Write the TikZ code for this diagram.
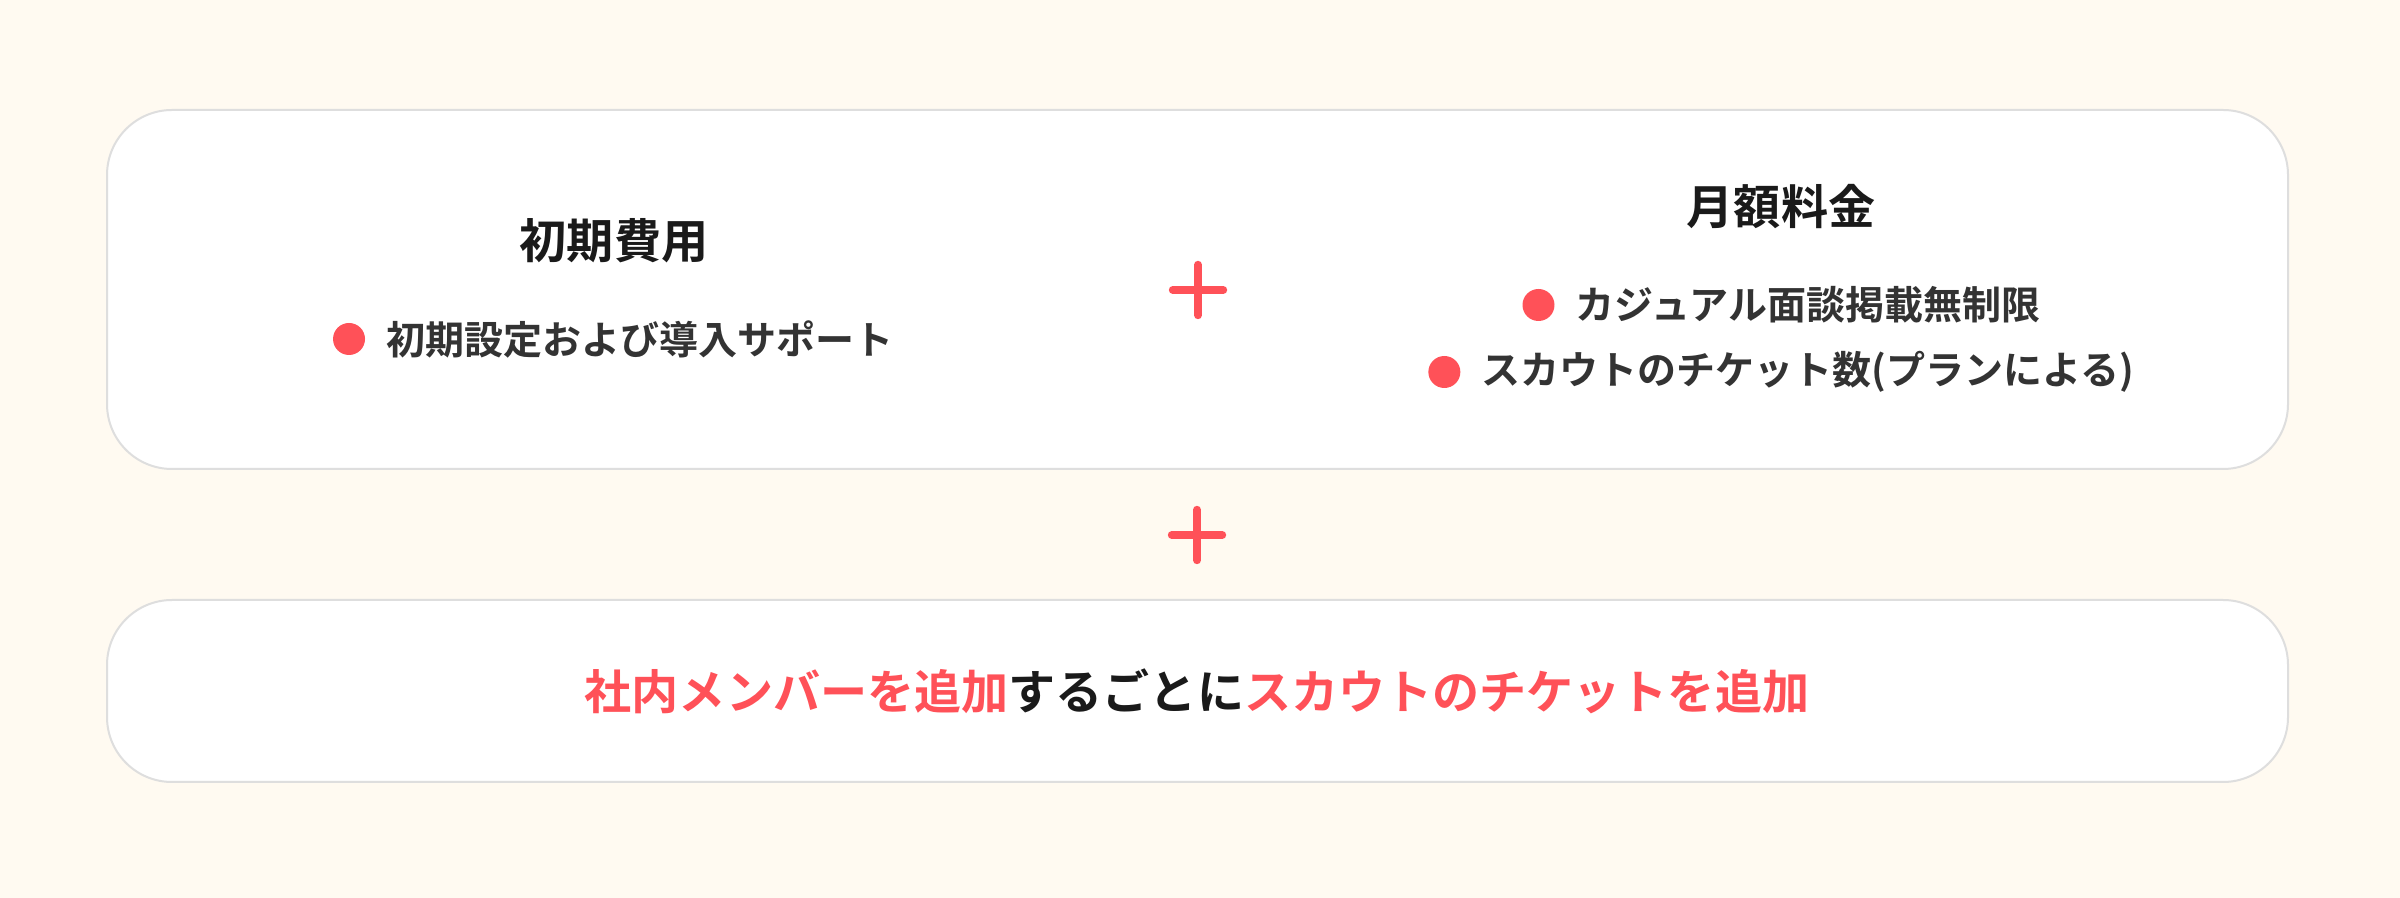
\documentclass[tikz,border=0pt]{standalone}
\usepackage{fontspec}
\setmainfont{Noto Sans CJK JP}[BoldFont={* Bold}]
\usetikzlibrary{positioning}
\definecolor{cream}{HTML}{FFFAF1}
\definecolor{accent}{HTML}{FF5158}
\definecolor{edge}{HTML}{DEDEDE}
\definecolor{ink}{HTML}{1A1A1A}
\definecolor{body}{HTML}{333333}
\tikzset{
  panel/.style    = { rectangle, rounded corners=6.5mm, draw=edge, line width=0.2mm, fill=white },
  heading/.style  = { font=\bfseries\fontsize{13.4pt}{16pt}\selectfont, text=ink, inner sep=0pt },
  item/.style     = { font=\bfseries\fontsize{11.1pt}{14pt}\selectfont, text=body, inner sep=0pt },
  dot/.style      = { circle, fill=accent, minimum size=3.2mm, inner sep=0pt },
  plusmark/.style = { minimum size=4.9mm, inner sep=0pt },
  plusbar/.style  = { draw=accent, line width=0.8mm, line cap=round },
}

\begin{document}
\begin{tikzpicture}[
  x=0.1mm, y=-0.1mm,
  node distance=2mm
]
  \fill [cream] (0,0) rectangle (2400,898);

  \node (fees)  [panel, minimum width=218.1mm, minimum height=35.9mm] at (1197.5,289.5) {};
  \node (extra) [panel, minimum width=218.1mm, minimum height=18.2mm] at (1197.5,691)   {};

  % initial cost
  \node (initial)   [heading]             at (614,241) {初期費用};
  \node (setup)     [item]                at (640,339) {初期設定および導入サポート};
  \node (dotsetup)  [dot, left=of setup]               {};

  % monthly fee
  \node (monthly)   [heading]             at (1781,207) {月額料金};
  \node (casual)    [item]                at (1808,305) {カジュアル面談掲載無制限};
  \node (dotcasual) [dot, left=of casual]               {};
  \node (scout)     [item]                at (1808,372) {スカウトのチケット数(プランによる)};
  \node (dotscout)  [dot, left=of scout]                {};

  \node (plusA) [plusmark] at (1198,290) {};
  \draw [plusbar] (plusA.north) -- (plusA.south);
  \draw [plusbar] (plusA.west)  -- (plusA.east);

  \node (plusB) [plusmark] at (1197,535) {};
  \draw [plusbar] (plusB.north) -- (plusB.south);
  \draw [plusbar] (plusB.west)  -- (plusB.east);

  \node (member) [heading] at (1197,691)
    {\textcolor{accent}{社内メンバーを追加}するごとに\textcolor{accent}{スカウトのチケットを追加}};

\end{tikzpicture}
\end{document}
